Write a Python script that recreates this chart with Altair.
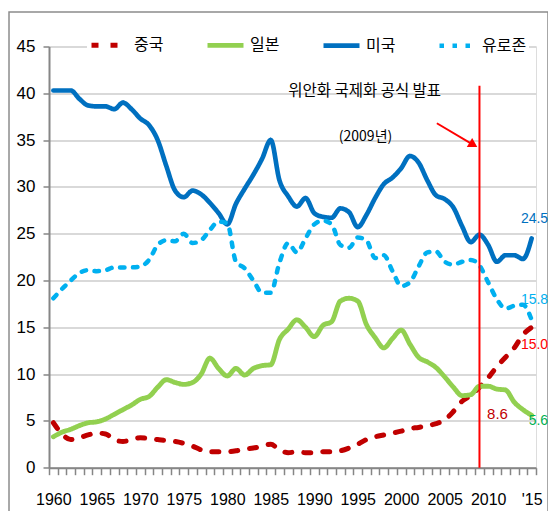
import altair as alt
import pandas as pd

years = list(range(1960, 2016))
series_names = ["중국", "일본", "미국", "유로존"]
series_colors = ["#C00000", "#92D050", "#0070C0", "#00B0F0"]

china = [4.8, 3.6, 3.0, 3.2, 3.5, 3.7, 3.6, 3.0, 2.8, 3.0,
         3.2, 3.1, 3.0, 2.9, 2.8, 2.6, 2.3, 1.9, 1.7, 1.7,
         1.7, 1.8, 2.0, 2.1, 2.3, 2.5, 1.9, 1.6, 1.7, 1.6,
         1.6, 1.7, 1.7, 1.8, 2.1, 2.5, 3.0, 3.3, 3.5, 3.7,
         3.9, 4.2, 4.3, 4.5, 4.7, 5.1, 6.0, 7.1, 7.7, 8.6,
         9.6, 10.8, 11.8, 12.8, 14.2, 15.0]
japan = [3.3, 3.8, 4.1, 4.5, 4.8, 4.9, 5.2, 5.7, 6.2, 6.7,
         7.3, 7.6, 8.6, 9.4, 9.1, 8.9, 9.1, 10.0, 11.7, 10.6,
         9.8, 10.6, 9.9, 10.6, 10.9, 11.0, 13.7, 14.8, 15.8, 15.0,
         14.0, 15.2, 15.6, 17.8, 18.1, 17.8, 15.3, 13.9, 12.8, 13.8,
         14.7, 13.2, 11.8, 11.3, 10.7, 9.7, 8.6, 7.7, 7.8, 8.7,
         8.7, 8.4, 8.3, 7.0, 6.2, 5.6]
usa = [40.3, 40.3, 40.3, 39.4, 38.7, 38.6, 38.6, 38.3, 39.0, 38.3,
       37.3, 36.6, 35.0, 32.2, 29.6, 28.9, 29.6, 29.2, 28.3, 27.2,
       26.0, 28.2, 29.8, 31.3, 33.0, 35.0, 30.7, 29.0, 27.9, 28.8,
       27.2, 26.8, 26.7, 27.7, 27.3, 25.7, 27.0, 28.8, 30.3, 31.0,
       32.0, 33.3, 32.6, 30.7, 29.1, 28.7, 27.8, 25.8, 24.1, 24.9,
       23.8, 22.0, 22.7, 22.7, 22.3, 24.5]
euro = [18.1, 19.1, 20.0, 20.8, 21.1, 21.0, 21.1, 21.4, 21.4, 21.4,
        21.5, 22.2, 23.8, 24.3, 24.2, 25.0, 24.0, 24.3, 25.4, 26.3,
        26.1, 22.0, 21.3, 20.0, 18.7, 18.7, 21.9, 24.0, 23.0, 24.5,
        26.0, 26.4, 26.0, 23.8, 23.5, 24.6, 24.3, 22.4, 22.7, 21.0,
        19.4, 19.8, 21.5, 23.0, 23.1, 22.0, 21.7, 22.0, 22.2, 21.6,
        19.8, 18.0, 17.0, 17.3, 17.4, 15.8]

y_ticks = [0, 5, 10, 15, 20, 25, 30, 35, 40, 45]

end_labels = ["24.5", "15.8", "15.0", "5.6", "8.6"]
end_years = [2015, 2015, 2015, 2015, 2009]
end_values = [24.5, 15.8, 15.0, 5.6, 8.6]
end_colors = ["#0070C0", "#00B0F0", "#FF0000", "#00B050", "#C00000"]

event_year = 2009
event_text = "위안화 국제화 공식 발표"
event_sub = "(2009년)"

rows = []
for name, vals in zip(series_names, [china, japan, usa, euro]):
    for yr, v in zip(years, vals):
        rows.append({"year": yr, "value": v, "series": name})
df = pd.DataFrame(rows)

NUM_FONT = "Liberation Sans Narrow, Arial Narrow, Liberation Sans, sans-serif"
KR_FONT = "Noto Sans CJK KR, sans-serif"
GRAY = "#868686"

xscale = alt.Scale(domain=[1959.5, 2015.5], nice=False, zero=False)
yscale = alt.Scale(domain=[0, 45], nice=False, zero=True)

xaxis = alt.Axis(
    values=[y - 0.5 for y in range(1960, 2017)],
    labelExpr="((datum.value + 0.5) % 5 == 0) ? (((datum.value + 0.5) == 2015) ? \"'15\" : toString(datum.value + 0.5)) : ''",
    labelOffset=4.35, labelOverlap=False, labelFlush=False, labelBound=False,
    tickSize=7, tickColor=GRAY, tickWidth=1.5,
    domainColor=GRAY, domainWidth=2, grid=False,
    labelFont=NUM_FONT, labelFontSize=16, labelColor="black", labelPadding=17,
    title=None,
)
yaxis = alt.Axis(
    values=y_ticks, tickSize=6, tickColor=GRAY, tickWidth=1.5,
    domainColor=GRAY, domainWidth=2, grid=True, gridColor="#D9D9D9", gridWidth=2,
    labelFont=NUM_FONT, labelFontSize=17, labelColor="black", labelPadding=8,
    labelOverlap=False, title=None,
)

legend = alt.Legend(
    title=None, orient="none", legendX=38, legendY=-24, direction="horizontal",
    columns=4, gridAlign="all", symbolType="stroke", symbolSize=1296,
    labelFont=KR_FONT, labelFontSize=16, labelColor="black", labelOffset=4,
    columnPadding=18, fillColor="white", padding=2,
)

X = lambda f: alt.X(f, scale=xscale, axis=xaxis)
Y = lambda f: alt.Y(f, scale=yscale, axis=yaxis)
XD = lambda v: alt.XDatum(v, scale=xscale, axis=xaxis)
YD = lambda v: alt.YDatum(v, scale=yscale, axis=yaxis)

lines = alt.Chart(df).mark_line(
    interpolate="monotone", strokeCap="round", strokeJoin="round"
).encode(
    x=X("year:Q"),
    y=Y("value:Q"),
    color=alt.Color("series:N", scale=alt.Scale(domain=series_names, range=series_colors), legend=legend),
    strokeDash=alt.StrokeDash("series:N", scale=alt.Scale(domain=series_names, range=[[7, 12], [1, 0], [1, 0], [4.5, 8.5]]), legend=legend),
    strokeWidth=alt.StrokeWidth("series:N", scale=alt.Scale(domain=series_names, range=[5, 4.5, 6.5, 4.5]), legend=legend),
)

ev = pd.DataFrame({"year": [event_year]})
vline = alt.Chart(ev).mark_rule(color="#FF0000", strokeWidth=2).encode(
    x=X("year:Q"), y=YD(40.8), y2=alt.Y2Datum(0)
)
arrow = alt.Chart(ev).mark_rule(color="#FF0000", strokeWidth=2).encode(
    x=XD(2004.1), x2=alt.X2Datum(2008.3), y=YD(36.8), y2=alt.Y2Datum(34.5)
)
arrow_head = alt.Chart(ev).mark_point(
    shape="triangle-right", filled=True, color="#FF0000", opacity=1, size=110, angle=31
).encode(x=XD(2008.3), y=YD(34.5))

t1 = alt.Chart(ev).mark_text(font=KR_FONT, fontSize=15.5, color="black").encode(
    x=XD(1995.8), y=YD(40.2), text=alt.value(event_text))
t2 = alt.Chart(ev).mark_text(font=KR_FONT, fontSize=14, color="black").encode(
    x=XD(1995.9), y=YD(35.3), text=alt.value(event_sub))

offsets = [(16.5, -19, "right"), (16.5, -20, "right"), (16.5, 18, "right"), (16.5, 6, "right"), (18, 27, "center")]
sizes = [14, 14, 14, 14, 15]
label_layers = []
for txt, yr, v, c, (dx, dy, al), fs in zip(end_labels, end_years, end_values, end_colors, offsets, sizes):
    d = pd.DataFrame({"year": [yr], "value": [v], "label": [txt]})
    label_layers.append(
        alt.Chart(d).mark_text(font=NUM_FONT, fontSize=fs, color=c, dx=dx, dy=dy, align=al, baseline="middle").encode(
            x=X("year:Q"), y=Y("value:Q"), text="label:N")
    )

border = alt.Chart(ev).mark_rect(fillOpacity=0, stroke="#8C8C8C", strokeWidth=1.5).encode(
    x=alt.value(-40), x2=alt.value(499), y=alt.value(-34.5), y2=alt.value(520)
)

chart = alt.layer(lines, border, vline, arrow, arrow_head, t1, t2, *label_layers).properties(
    width=487, height=421.2,
    padding={"left": 41, "top": 38.5, "right": 12, "bottom": 43},
    autosize=alt.AutoSizeParams(type="none"),
).configure_view(stroke=None).configure_axis(labelOverlap=False).configure(background="white")

chart.save("out.html", embed_options={"renderer": "svg", "actions": False})
